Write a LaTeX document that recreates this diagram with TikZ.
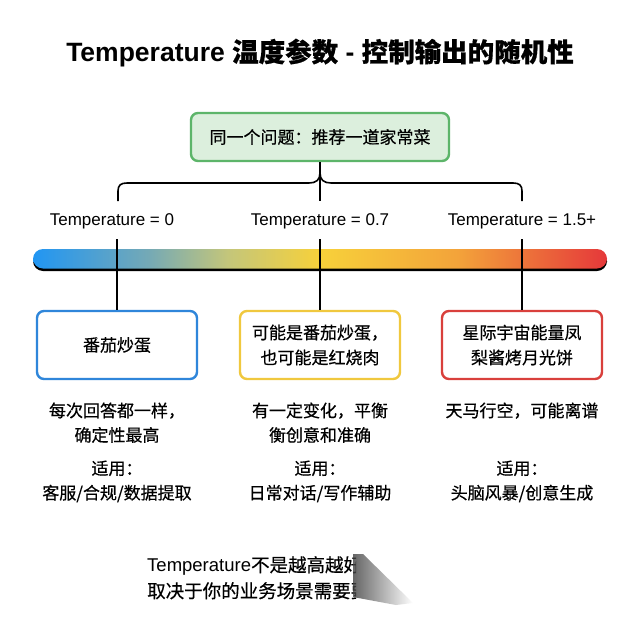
\documentclass[tikz,border=0pt]{standalone}
\usepackage{fontspec}
\setmainfont{Liberation Sans}
\newfontfamily\cjk[FakeBold=0.5]{Noto Sans CJK SC}
\newcommand\zh[1]{{\cjk #1}}
\definecolor{qgreen}{HTML}{5DB56A}
\definecolor{qfill}{HTML}{DCEFDD}
\definecolor{cblue}{HTML}{2F86DA}
\definecolor{cyellow}{HTML}{F0C83E}
\definecolor{cred}{HTML}{D9403C}
\definecolor{gblue}{HTML}{2196F3}
\definecolor{gteal}{HTML}{74A9B6}
\definecolor{golive}{HTML}{C4C67A}
\definecolor{gyellow}{HTML}{F7D13A}
\definecolor{gorange}{HTML}{F3A33A}
\definecolor{gred}{HTML}{E5383A}
\pgfdeclarehorizontalshading{tempbar}{100bp}{color(0bp)=(gblue); color(25bp)=(gblue); color(35bp)=(gteal); color(42bp)=(golive); color(50bp)=(gyellow); color(62bp)=(gorange); color(75bp)=(gred); color(100bp)=(gred)}
\begin{document}
\begin{tikzpicture}[x=1pt,y=-1pt,
  title/.style={font=\fontsize{26.5}{30}\selectfont\bfseries},
  lbl/.style={font=\fontsize{17}{20}\selectfont},
  txt/.style={font=\fontsize{17}{24.5}\selectfont, align=center},
  card/.style={draw, line width=2.4pt, rounded corners=7pt, fill=white,
    minimum width=160, minimum height=68, align=center, inner sep=2pt,
    font=\fontsize{17}{25}\selectfont},
  link/.style={line width=1.6pt, black}]
\fill[white] (0,0) rectangle (640,640);
\useasboundingbox (0,0) rectangle (640,640);

\node[title] (title) at (320,53) {Temperature \zh{温度参数} - \zh{控制输出的随机性}};

\node[card, draw=qgreen, fill=qfill, minimum width=258, minimum height=48] (q) at (320,137) {\zh{同一个问题：推荐一道家常菜}};

% brace
\coordinate (bl) at (118,201);
\coordinate (br) at (522,201);
\coordinate (bm) at (320,201);
\draw[link] (q.south) -- (bm);
\draw[link] (bl) -- (118,191) .. controls (118,185) and (121,183) .. (127,183) -- (309,183) .. controls (316,183) and (320,180) .. (320,173);
\draw[link] (br) -- (522,191) .. controls (522,185) and (519,183) .. (513,183) -- (331,183) .. controls (324,183) and (320,180) .. (320,173);

% labels
\node[lbl] (t0) at (112,221) {Temperature = 0};
\node[lbl] (t1) at (320,221) {Temperature = 0.7};
\node[lbl] (t2) at (522,221) {Temperature = 1.5+};

% bar
\fill[black, rounded corners=10pt] (33,252) rectangle (607,271);
\shade[shading=tempbar, rounded corners=10pt] (33,249) rectangle (607,268.5);

% cards
\node[card, draw=cblue] (b0) at (117,345) {\zh{番茄炒蛋}};
\node[card, draw=cyellow] (b1) at (320,345) {\zh{可能是番茄炒蛋，}\\\zh{也可能是红烧肉}};
\node[card, draw=cred] (b2) at (522,345) {\zh{星际宇宙能量凤}\\\zh{梨酱烤月光饼}};

\coordinate (k0) at (117,239);
\coordinate (k1) at (320,239);
\coordinate (k2) at (522,239);
\draw[link] (k0) -- (b0.north);
\draw[link] (k1) -- (b1.north);
\draw[link] (k2) -- (b2.north);

% descriptions
\node[txt, anchor=north] (d0) at (117,399) {\zh{每次回答都一样，}\\\zh{确定性最高}};
\node[txt, anchor=north] (d1) at (320,399) {\zh{有一定变化，平衡}\\\zh{衡创意和准确}};
\node[txt, anchor=north] (d2) at (522,399) {\zh{天马行空，可能离谱}};

\node[txt, anchor=north] (u0) at (117,457) {\zh{适用：}\\\zh{客服/合规/数据提取}};
\node[txt, anchor=north] (u1) at (320,457) {\zh{适用：}\\\zh{日常对话/写作辅助}};
\node[txt, anchor=north] (u2) at (522,457) {\zh{适用：}\\\zh{头脑风暴/创意生成}};

% bottom note (cut off)
\begin{scope}
\clip (140,545) rectangle (356,610);
\node[align=left, anchor=north west, inner sep=0pt, font=\fontsize{18.5}{26}\selectfont] (note) at (147,556) {Temperature\zh{不是越高越好}\\\zh{取决于你的业务场景需要要}};
\end{scope}
\shade[left color=black!75, right color=white, opacity=0.8] (353,554) -- (363,554) -- (413,603) -- (396,605) -- (353,597) -- cycle;
\end{tikzpicture}
\end{document}
